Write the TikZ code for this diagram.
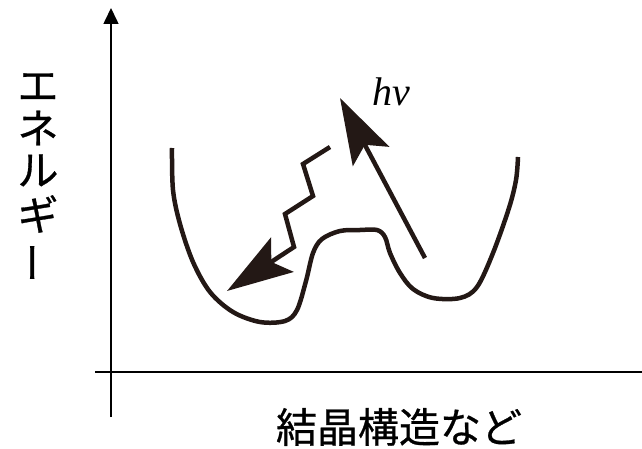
\documentclass[tikz,border=0pt]{standalone}
\usepackage{fontspec}
\newfontfamily\jp[FakeBold=0.7]{Noto Sans CJK JP}
\newfontfamily\tnr{Liberation Serif}
\usetikzlibrary{arrows.meta}
\definecolor{ink}{HTML}{231815}
\tikzset{
  axis/.style={line width=1.6pt, black, -{Triangle[length=16pt,width=15pt]}},
  curve/.style={line width=4.5pt, ink, line join=round},
  bigarrow/.style={line width=4.5pt, ink, -{Stealth[length=66pt,width=41pt,inset=13pt]}},
  jplabel/.style={inner sep=0pt, font=\jp\fontsize{41pt}{41pt}\selectfont},
}
\begin{document}
\begin{tikzpicture}[x=1pt,y=-1pt]
\useasboundingbox (0,0) rectangle (642,449);
\clip (0,0) rectangle (642,449);
% axes
\coordinate (yb) at (111,417);
\coordinate (yt) at (111,8);
\coordinate (xl) at (95,372);
\coordinate (xr) at (658,372);
\draw[axis] (yb) -- (yt);
\draw[axis] (xl) -- (xr);
% potential curve
\draw[curve] plot[smooth, tension=0.55] coordinates {
 (172,148) (173,190) (180,224) (193,262) (210,292) (233,312) (260,322)
 (285,321) (297,310) (306,281) (313,253) (322,239) (340,231) (360,230)
 (377,230) (385,237) (390,253) (400,273) (413,289) (433,298) (460,298)
 (477,287) (493,253) (509,208) (516,180) (518,157)};
% zigzag relaxation arrow
\coordinate (z0) at (330,147);
\coordinate (z1) at (303,164);
\coordinate (z2) at (313,196);
\coordinate (z3) at (285,214);
\coordinate (z4) at (294,247);
\coordinate (z5) at (227,291);
\draw[bigarrow] (z0) -- (z1) -- (z2) -- (z3) -- (z4) -- (z5);
% excitation arrow
\coordinate (h0) at (425,258);
\coordinate (h1) at (340,98);
\draw[bigarrow] (h0) -- (h1);
\node[anchor=base west, inner sep=0pt, font=\tnr\itshape\fontsize{40pt}{40pt}\selectfont] (hv) at (372,106) {hν};
% labels
\node[jplabel] (e1) at (38,87) {エ};
\node[jplabel] (e2) at (38,128) {ネ};
\node[jplabel] (e3) at (38,170.5) {ル};
\node[jplabel] (e4) at (38,214) {ギ};
\node[jplabel, rotate=90] (e5) at (39,262.5) {ー};
\node[jplabel] (xlab) at (399,427) {結晶構造など};
\end{tikzpicture}
\end{document}
